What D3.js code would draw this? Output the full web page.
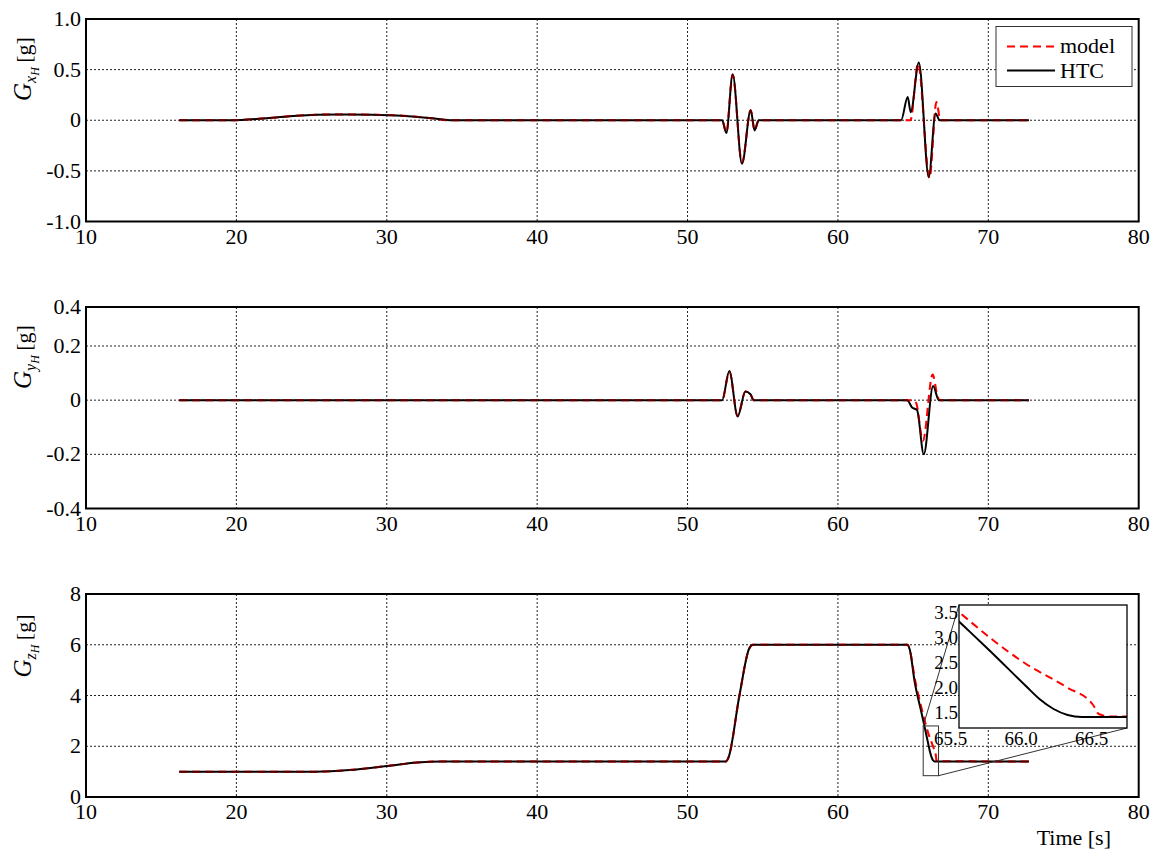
<!DOCTYPE html>
<html><head><meta charset="utf-8">
<script src="https://cdn.jsdelivr.net/npm/d3@7"></script>
<style>
html,body{margin:0;padding:0;background:#fff;}
svg{display:block;font-family:"Liberation Serif","Times New Roman",serif;}
</style></head>
<body>
<svg id="chart" width="1160" height="856"></svg>
<script>
// ---------- DATA ----------
const xTicks = [10, 20, 30, 40, 50, 60, 70, 80];
const xTickLabels = ["10", "20", "30", "40", "50", "60", "70", "80"];

const gxTicks = [-1, -0.5, 0, 0.5, 1];
const gxTickLabels = ["-1.0", "-0.5", "0", "0.5", "1.0"];
const gyTicks = [-0.4, -0.2, 0, 0.2, 0.4];
const gyTickLabels = ["-0.4", "-0.2", "0", "0.2", "0.4"];
const gzTicks = [0, 2, 4, 6, 8];
const gzTickLabels = ["0", "2", "4", "6", "8"];

// Gx (HTC / model)
const gxHtcT = [16.2, 19.6, 22, 24, 26.7, 29, 31, 33, 34.2, 52.3, 52.58, 53.0, 53.62, 54.2, 54.46, 54.73, 64.2, 64.64, 64.84, 65.38, 66.04, 66.49, 66.77, 72.7];
const gxHtcV = [0, 0, 0.02, 0.045, 0.058, 0.055, 0.045, 0.02, 0, 0, -0.126, 0.455, -0.43, 0.10, -0.10, 0, 0, 0.23, 0.08, 0.57, -0.56, 0.066, 0, 0];
const gxModelT = [16.2, 19.6, 22, 24, 26.7, 29, 31, 33, 34.2, 52.3, 52.58, 53.0, 53.62, 54.2, 54.46, 54.73, 64.82, 65.33, 66.09, 66.55, 66.82, 72.7];
const gxModelV = [0, 0, 0.02, 0.045, 0.058, 0.055, 0.045, 0.02, 0, 0, -0.12, 0.45, -0.42, 0.10, -0.10, 0, 0, 0.56, -0.57, 0.18, 0, 0];

// Gy
const gyHtcT = [16.2, 52.3, 52.78, 53.33, 53.85, 54.18, 54.4, 64.6, 64.93, 65.26, 65.71, 66.33, 66.71, 72.7];
const gyHtcV = [0, 0, 0.1075, -0.06, 0.032, 0.022, 0, 0, -0.027, -0.036, -0.20, 0.052, 0, 0];
const gyModelT = [16.2, 52.3, 52.78, 53.33, 53.85, 54.18, 54.4, 65.0, 65.2, 65.65, 66.3, 66.6, 66.77, 72.7];
const gyModelV = [0, 0, 0.105, -0.058, 0.032, 0.022, 0, 0, -0.01, -0.15, 0.095, 0.02, 0, 0];

// Gz
const gzHtcT = [16.2, 25.3, 27.5, 30, 32, 33.6, 52.55, 52.72, 53.45, 54.1, 54.35, 64.62, 64.78, 65.1, 65.56, 65.78, 66.03, 66.13, 66.23, 66.33, 66.43, 72.7];
const gzHtcV = [1.0, 1.0, 1.06, 1.22, 1.36, 1.4, 1.4, 1.55, 4.0, 5.85, 6.0, 6.0, 5.8, 4.55, 3.31, 2.72, 2.03, 1.76, 1.56, 1.44, 1.4, 1.4];
const gzModelT = [16.2, 25.3, 27.5, 30, 32, 33.6, 52.55, 52.72, 53.45, 54.1, 54.35, 64.62, 64.78, 65.1, 65.56, 66.03, 66.32, 66.51, 66.55, 66.63, 72.7];
const gzModelV = [1.0, 1.0, 1.06, 1.22, 1.36, 1.4, 1.4, 1.55, 4.0, 5.85, 6.0, 6.0, 5.8, 4.7, 3.5, 2.47, 2.0, 1.64, 1.46, 1.41, 1.4];

// inset
const insetXDomain = [65.56, 66.75];
const insetYDomain = [1.18, 3.64];
const insetXTicks = [65.5, 66.0, 66.5];
const insetXTickLabels = ["65.5", "66.0", "66.5"];
const insetYTicks = [1.5, 2.0, 2.5, 3.0, 3.5];
const insetYTickLabels = ["1.5", "2.0", "2.5", "3.0", "3.5"];
const zoomBoxX = [65.67, 66.69];
const zoomBoxY = [0.84, 2.8];

const seriesNames = ["model", "HTC"];

// ---------- DRAW ----------
const svg = d3.select("#chart");
const X0 = 86, X1 = 1138.7;
const x = d3.scaleLinear().domain([10, 80]).range([X0, X1]);

const panels = [
  {top: 19, bottom: 221.5, y: d3.scaleLinear().domain([-1, 1]).range([221.5, 19]),
   ticks: gxTicks, labels: gxTickLabels, sub: "x", titleY: 69,
   htc: [gxHtcT, gxHtcV], model: [gxModelT, gxModelV]},
  {top: 307, bottom: 508.5, y: d3.scaleLinear().domain([-0.4, 0.2, 0.4]).range([508.5, 346, 307]),
   ticks: gyTicks, labels: gyTickLabels, sub: "y", titleY: 357,
   htc: [gyHtcT, gyHtcV], model: [gyModelT, gyModelV]},
  {top: 594, bottom: 797, y: d3.scaleLinear().domain([0, 8]).range([797, 594]),
   ticks: gzTicks, labels: gzTickLabels, sub: "z", titleY: 646,
   htc: [gzHtcT, gzHtcV], model: [gzModelT, gzModelV]}
];

function drawSeries(g, T, V, xs, ys, style) {
  const pts = T.map((t, i) => [t, V[i]]);
  const line = d3.line().x(d => xs(d[0])).y(d => ys(d[1])).curve(d3.curveMonotoneX);
  const p = g.append("path").attr("d", line(pts)).attr("fill", "none")
    .attr("stroke-linejoin", "round").attr("stroke-linecap", "butt");
  for (const k in style) p.attr(k, style[k]);
  return p;
}
const redStyle = {"stroke": "#ff0000", "stroke-width": 2, "stroke-dasharray": "8,5"};
const redOverlay = {"stroke": "#ff0000", "stroke-width": 2, "stroke-dasharray": "8,5", "opacity": 0.3};
const blackStyle = {"stroke": "#000", "stroke-width": 2};

panels.forEach((P, pi) => {
  const g = svg.append("g");
  g.selectAll(".vg").data(xTicks.slice(1, -1)).enter().append("line")
    .attr("x1", d => x(d)).attr("x2", d => x(d))
    .attr("y1", P.top).attr("y2", P.bottom)
    .attr("stroke", "#222").attr("stroke-width", 1).attr("stroke-dasharray", "2,2");
  g.selectAll(".hg").data(P.ticks.slice(1, -1)).enter().append("line")
    .attr("x1", X0).attr("x2", X1)
    .attr("y1", d => P.y(d)).attr("y2", d => P.y(d))
    .attr("stroke", "#222").attr("stroke-width", 1).attr("stroke-dasharray", "2,2");

  drawSeries(g, P.model[0], P.model[1], x, P.y, redStyle);
  drawSeries(g, P.htc[0], P.htc[1], x, P.y, blackStyle);
  drawSeries(g, P.model[0], P.model[1], x, P.y, redOverlay);

  g.append("rect").attr("x", X0).attr("y", P.top).attr("width", X1 - X0).attr("height", P.bottom - P.top)
    .attr("fill", "none").attr("stroke", "#000").attr("stroke-width", 2);

  g.selectAll(".xl").data(xTicks).enter().append("text")
    .attr("x", d => x(d)).attr("y", P.bottom + 22)
    .attr("text-anchor", "middle").attr("font-size", 22).text((d, i) => xTickLabels[i]);
  g.selectAll(".yl").data(P.ticks).enter().append("text")
    .attr("x", 81).attr("y", d => P.y(d) + 7)
    .attr("text-anchor", "end").attr("font-size", 22).text((d, i) => P.labels[i]);

  const t = g.append("text").attr("transform", `translate(31,${P.titleY}) rotate(-90)`)
    .attr("text-anchor", "middle");
  t.append("tspan").attr("font-style", "italic").attr("font-size", 25).text("G");
  t.append("tspan").attr("font-style", "italic").attr("font-size", 16).attr("dy", 5).text(P.sub);
  t.append("tspan").attr("font-style", "italic").attr("font-size", 12).attr("dy", 3).text("H");
  t.append("tspan").attr("font-size", 22).attr("dy", -8).text("\u2009[g]");
});

svg.append("text").attr("x", 1111).attr("y", 845).attr("text-anchor", "end")
  .attr("font-size", 22).text("Time [s]");

// legend
const lg = svg.append("g");
lg.append("rect").attr("x", 996).attr("y", 26.5).attr("width", 136).attr("height", 60)
  .attr("fill", "#fff").attr("stroke", "#333").attr("stroke-width", 1);
lg.append("line").attr("x1", 1007).attr("x2", 1055).attr("y1", 46.5).attr("y2", 46.5)
  .attr("stroke", "#ff0000").attr("stroke-width", 2).attr("stroke-dasharray", "8,5");
lg.append("line").attr("x1", 1007).attr("x2", 1055).attr("y1", 70.5).attr("y2", 70.5)
  .attr("stroke", "#000").attr("stroke-width", 2);
lg.append("text").attr("x", 1060).attr("y", 53).attr("font-size", 22).text(seriesNames[0]);
lg.append("text").attr("x", 1060).attr("y", 78).attr("font-size", 22).text(seriesNames[1]);

// inset
const P3 = panels[2];
const IL = 959, IR = 1127, IT = 605, IB = 728;
const ix = d3.scaleLinear().domain(insetXDomain).range([IL, IR]);
const iy = d3.scaleLinear().domain(insetYDomain).range([IB, IT]);

const bx0 = x(zoomBoxX[0]), bx1 = x(zoomBoxX[1]);
const by0 = P3.y(zoomBoxY[1]), by1 = P3.y(zoomBoxY[0]);
const ig = svg.append("g");
ig.append("rect").attr("x", bx0).attr("y", by0).attr("width", bx1 - bx0).attr("height", by1 - by0)
  .attr("fill", "none").attr("stroke", "#333").attr("stroke-width", 1);
ig.append("line").attr("x1", bx0).attr("y1", by0).attr("x2", IL).attr("y2", IT)
  .attr("stroke", "#333").attr("stroke-width", 1);
ig.append("line").attr("x1", bx1).attr("y1", by1).attr("x2", IR).attr("y2", IB)
  .attr("stroke", "#333").attr("stroke-width", 1);

ig.append("rect").attr("x", IL).attr("y", IT).attr("width", IR - IL).attr("height", IB - IT)
  .attr("fill", "#fff");
svg.append("defs").append("clipPath").attr("id", "insetClip").append("rect")
  .attr("x", IL).attr("y", IT).attr("width", IR - IL).attr("height", IB - IT);
const ic = ig.append("g").attr("clip-path", "url(#insetClip)");
drawSeries(ic, gzModelT, gzModelV, ix, iy, redStyle);
drawSeries(ic, gzHtcT, gzHtcV, ix, iy, blackStyle);
ig.append("rect").attr("x", IL).attr("y", IT).attr("width", IR - IL).attr("height", IB - IT)
  .attr("fill", "none").attr("stroke", "#000").attr("stroke-width", 1.3);
ig.selectAll(".ixl").data(insetXTicks).enter().append("text")
  .attr("x", d => ix(d)).attr("y", IB + 17).attr("text-anchor", "middle")
  .attr("font-size", 19).text((d, i) => insetXTickLabels[i]);
ig.selectAll(".iyl").data(insetYTicks).enter().append("text")
  .attr("x", IL - 1).attr("y", d => iy(d) + 6.5).attr("text-anchor", "end")
  .attr("font-size", 19).text((d, i) => insetYTickLabels[i]);
</script>
</body></html>
